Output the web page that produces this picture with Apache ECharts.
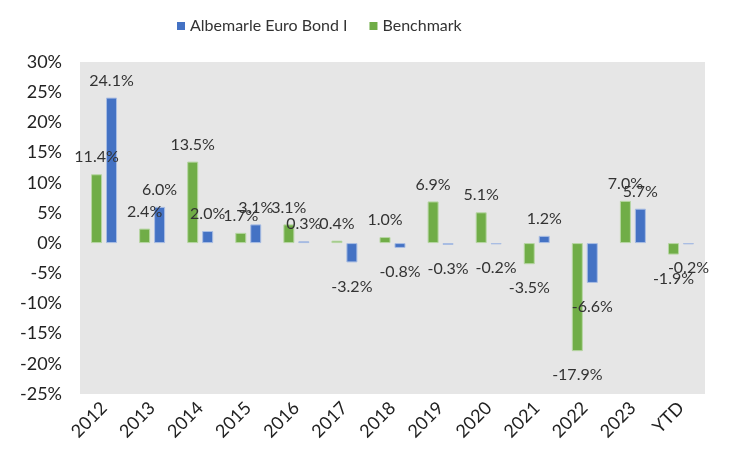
<!DOCTYPE html>
<html>
<head>
<meta charset="utf-8">
<title></title>
<script src="https://cdn.jsdelivr.net/npm/echarts@6/dist/echarts.min.js"></script>
<style type="text/css">
	html, body { margin: 0; padding: 0; background: #fff; }
	div#chart { width: 738px; height: 453px; }
</style>
</head>
<body>
<div id="chart"></div>
<script type="text/javascript">
var years = ['2012', '2013', '2014', '2015', '2016', '2017', '2018', '2019', '2020', '2021', '2022', '2023', 'YTD'];
var fund = [24.1, 6.0, 2.0, 3.1, 0.3, -3.2, -0.8, -0.3, -0.2, 1.2, -6.6, 5.7, -0.2];
var bench = [11.4, 2.4, 13.5, 1.7, 3.1, 0.4, 1.0, 6.9, 5.1, -3.5, -17.9, 7.0, -1.9];
var yTicks = [-25, -20, -15, -10, -5, 0, 5, 10, 15, 20, 25, 30];

var fontName = 'Lato, "Noto Sans", sans-serif';

// 正数标签放上面，负数放下面
function withLabels(arr) {
	return arr.map(function (v) {
		return {
			value: v,
			label: v < 0 ? { position: 'bottom', distance: 16 } : { position: 'top', distance: 9 }
		};
	});
}

var myChart = echarts.init(document.getElementById('chart'));
var option = {
	textStyle: { fontFamily: fontName },
	legend: {
		data: ['Albemarle Euro Bond I', 'Benchmark'],
		top: 13,
		left: 172,
		icon: 'rect',
		itemWidth: 8,
		itemHeight: 8,
		itemGap: 22,
		itemStyle: { borderWidth: 0 },
		textStyle: { fontSize: 16, color: '#333', fontFamily: fontName }
	},
	grid: {
		left: 80,
		right: 33,
		top: 62,
		bottom: 59,
		show: true,
		backgroundColor: '#e6e6e6',
		borderWidth: 0
	},
	xAxis: {
		type: 'category',
		data: years,
		axisLine: { show: false },
		axisTick: { show: false },
		axisLabel: {
			rotate: 45,
			margin: 11,
			interval: 0,
			fontSize: 18,
			color: '#222',
			fontFamily: fontName
		}
	},
	yAxis: {
		type: 'value',
		min: yTicks[0],
		max: yTicks[yTicks.length - 1],
		interval: 5,
		splitLine: { show: false },
		axisLine: { show: false },
		axisTick: { show: false },
		axisLabel: {
			formatter: '{value}%',
			margin: 18,
			fontSize: 18,
			color: '#222',
			fontFamily: fontName
		}
	},
	series: [{
		name: 'Benchmark',
		type: 'bar',
		barWidth: 11,
		barGap: '36%',
		data: withLabels(bench),
		itemStyle: { color: '#70ad47', borderColor: '#b7d6a3', borderWidth: 1 },
		label: {
			show: true,
			fontSize: 16,
			color: '#333',
			fontFamily: fontName,
			formatter: function (p) { return p.value.toFixed(1) + '%'; }
		}
	}, {
		name: 'Albemarle Euro Bond I',
		type: 'bar',
		barWidth: 11,
		data: withLabels(fund),
		itemStyle: { color: '#4472c4', borderColor: '#a9bde3', borderWidth: 1 },
		label: {
			show: true,
			fontSize: 16,
			color: '#333',
			fontFamily: fontName,
			formatter: function (p) { return p.value.toFixed(1) + '%'; }
		}
	}]
};
myChart.setOption(option);
</script>
</body>
</html>
